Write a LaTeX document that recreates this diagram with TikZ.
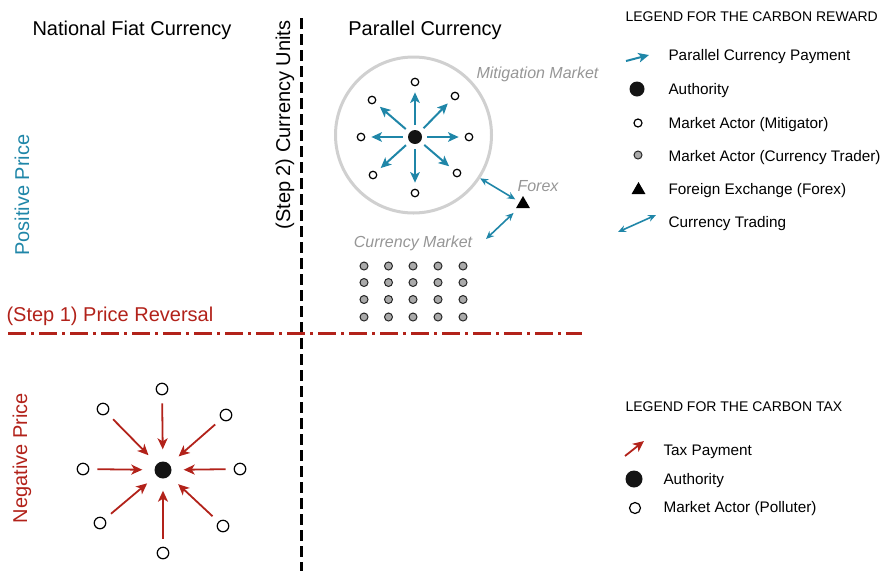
\documentclass[tikz,border=0pt]{standalone}
\usepackage{fontspec}
\setmainfont{Liberation Sans}
\usetikzlibrary{arrows.meta,shapes.geometric,calc}
\definecolor{pblue}{RGB}{31,134,168}
\definecolor{pred}{RGB}{178,34,26}
\definecolor{lgray}{RGB}{208,208,208}
\definecolor{tgray}{RGB}{150,150,150}
\definecolor{dgray}{RGB}{170,170,170}
\begin{document}
\begin{tikzpicture}[x=1pt,y=-1pt,
  auth/.style={circle,fill=black!92,inner sep=0pt,minimum size=#1},
  auth/.default=14pt,
  actor/.style={circle,draw=black,line width=1.2pt,fill=white,inner sep=0pt,minimum size=#1},
  actor/.default=7.5pt,
  trader/.style={circle,draw=black!85,line width=1pt,fill=dgray,inner sep=0pt,minimum size=8pt},
  forexshape/.style={regular polygon,regular polygon sides=3,fill=black,inner sep=0pt,minimum size=16pt},
  payarr/.style={draw=pblue,line width=2pt,-{Stealth[length=10.5pt,width=9.5pt,inset=2.5pt]}},
  taxarr/.style={draw=pred,line width=1.8pt,-{Stealth[length=11pt,width=10pt,inset=3pt]}},
  tradearr/.style={draw=pblue,line width=1.6pt,{Stealth[length=8pt,width=7pt]}-{Stealth[length=8pt,width=7pt]}},
  titletxt/.style={font=\fontsize{20}{24}\selectfont},
  graylab/.style={font=\fontsize{16}{19}\selectfont\itshape,text=tgray},
  legtxt/.style={font=\fontsize{15.3}{18}\selectfont,anchor=west},
  leghead/.style={font=\fontsize{14}{17}\selectfont,anchor=west},
  vline/.style={line width=3pt,dash pattern=on 11pt off 5pt},
  hline/.style={draw=pred,line width=3pt,dash pattern=on 18pt off 5pt on 3pt off 5pt}
]
\useasboundingbox (0,0) rectangle (888,571);

% axes
\coordinate (vtop) at (301,18);
\coordinate (vbot) at (301,571);
\coordinate (hl) at (8,333);
\coordinate (hr) at (582,333);
\draw[vline] (vtop) -- (vbot);
\draw[hline] (hl) -- (hr);

% titles and axis labels
\node[titletxt,anchor=west] (nfc) at (29,30) {National Fiat Currency};
\node[titletxt] (pc) at (425,30) {Parallel Currency};
\node[titletxt,text=pred,anchor=west] (s1) at (3,316) {(Step 1) Price Reversal};
\node[titletxt,rotate=90] (s2) at (285,125) {(Step 2) Currency Units};
\node[titletxt,rotate=90,text=pblue] (pp) at (22,195) {Positive Price};
\node[titletxt,rotate=90,text=pred] (np) at (22,458) {Negative Price};

% mitigation market
\node[circle,draw=lgray,line width=3pt,inner sep=0pt,minimum size=156pt] (mc) at (413.5,135) {};
\node[auth] (a1) at (415,137) {};
\node[actor] (m1) at (415,82) {};
\node[actor] (m2) at (455,96) {};
\node[actor] (m3) at (469,137) {};
\node[actor] (m4) at (457,173) {};
\node[actor] (m5) at (415,193) {};
\node[actor] (m6) at (373,175) {};
\node[actor] (m7) at (361,137) {};
\node[actor] (m8) at (372,100) {};
\foreach \i in {1,...,8}{
  \draw[payarr,shorten <=5pt,shorten >=6pt] (a1) -- (m\i);
}
\node[graylab] (mmlab) at (537.5,74) {Mitigation Market};

% forex
\node[forexshape] (fx) at (523,204) {};
\node[graylab] (fxlab) at (538,186) {Forex};
\draw[tradearr,shorten >=9pt] (mc.-33) -- (fx.center);
\coordinate (cmend) at (486,239);
\draw[tradearr,shorten <=13pt] (fx.center) -- (cmend);
\node[graylab] (cmlab) at (413,243) {Currency Market};

% currency traders grid
\foreach \c/\x in {1/364,2/388.5,3/413,4/438,5/463}{
  \foreach \r/\y in {1/266,2/282.5,3/299.5,4/317}{
    \node[trader] (g\c\r) at (\x,\y) {};
  }
}

% carbon tax (bottom left)
\node[auth=17pt] (a2) at (163,470) {};
\node[actor=11.5pt] (p1) at (162,389) {};
\node[actor=11.5pt] (p2) at (226,415) {};
\node[actor=11.5pt] (p3) at (240,469) {};
\node[actor=11.5pt] (p4) at (223,526) {};
\node[actor=11.5pt] (p5) at (163,553) {};
\node[actor=11.5pt] (p6) at (100,523) {};
\node[actor=11.5pt] (p7) at (83,469) {};
\node[actor=11.5pt] (p8) at (103,409) {};
\foreach \i in {1,...,8}{
  \draw[taxarr,shorten <=8pt,shorten >=12pt] (p\i) -- (a2);
}

% legend reward
\node[leghead] (lh1) at (622,17) {LEGEND FOR THE CARBON REWARD};
\coordinate (la1s) at (626,61);
\coordinate (la1e) at (649,55);
\draw[payarr] (la1s) -- (la1e);
\node[legtxt] (lt1) at (665,57) {Parallel Currency Payment};
\node[auth=15pt] (ls2) at (637,89) {};
\node[legtxt] (lt2) at (665,91) {Authority};
\node[actor=8pt] (ls3) at (638,123) {};
\node[legtxt] (lt3) at (665,125) {Market Actor (Mitigator)};
\node[trader] (ls4) at (638,155) {};
\node[legtxt] (lt4) at (665,158) {Market Actor (Currency Trader)};
\node[forexshape] (ls5) at (638.5,190) {};
\node[legtxt] (lt5) at (665,191) {Foreign Exchange (Forex)};
\coordinate (la6s) at (618,232);
\coordinate (la6e) at (656,215);
\draw[tradearr] (la6s) -- (la6e);
\node[legtxt] (lt6) at (665,224) {Currency Trading};

% legend tax
\node[leghead] (lh2) at (622,407) {LEGEND FOR THE CARBON TAX};
\coordinate (lt1s) at (625,456);
\coordinate (lt1e) at (644,441);
\draw[taxarr] (lt1s) -- (lt1e);
\node[legtxt] (tt1) at (660,452) {Tax Payment};
\node[auth=17pt] (ts2) at (634,479) {};
\node[legtxt] (tt2) at (660,481) {Authority};
\node[actor=11pt] (ts3) at (635,508) {};
\node[legtxt] (tt3) at (660,509) {Market Actor (Polluter)};
\end{tikzpicture}
\end{document}
